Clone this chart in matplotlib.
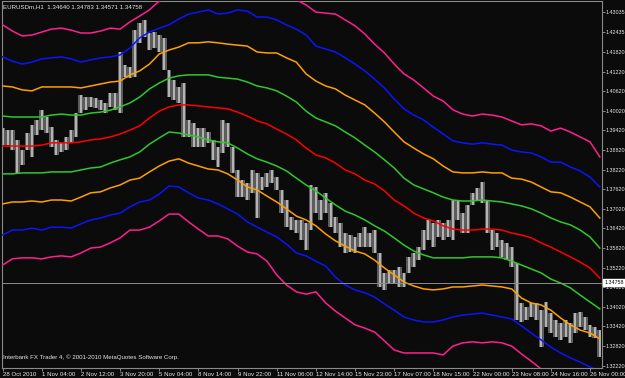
import numpy as np
import matplotlib
matplotlib.use('Agg')
import matplotlib.pyplot as plt
import matplotlib.transforms as mtransforms

# EURUSDm H1 bands, one reading every 8 bars (bar 0 = 28 Oct 2010)
env_up4 = [1.4265, 1.4246, 1.4231, 1.4234, 1.4243, 1.4252, 1.4255, 1.4249, 1.4240, 1.4240,
           1.4246, 1.4255, 1.4252, 1.4274, 1.4292, 1.4311, 1.4338, 1.4350, 1.4369, 1.4384,
           1.4390, 1.4396, 1.4384, 1.4387, 1.4396, 1.4393, 1.4375, 1.4375, 1.4369, 1.4353,
           1.4341, 1.4326, 1.4304, 1.4301, 1.4298, 1.4280, 1.4262, 1.4237, 1.4206, 1.4179,
           1.4145, 1.4115, 1.4096, 1.4072, 1.4047, 1.4032, 1.4005, 1.3992, 1.3986, 1.3992,
           1.3989, 1.3983, 1.3971, 1.3959, 1.3962, 1.3956, 1.3940, 1.3949, 1.3937, 1.3922,
           1.3907, 1.3861]
env_up3 = [1.4167, 1.4154, 1.4145, 1.4151, 1.4161, 1.4164, 1.4167, 1.4161, 1.4151, 1.4158,
           1.4164, 1.4167, 1.4173, 1.4194, 1.4225, 1.4243, 1.4255, 1.4265, 1.4283, 1.4298,
           1.4304, 1.4311, 1.4298, 1.4301, 1.4311, 1.4307, 1.4289, 1.4289, 1.4280, 1.4265,
           1.4252, 1.4234, 1.4200, 1.4191, 1.4182, 1.4164, 1.4145, 1.4124, 1.4099, 1.4072,
           1.4038, 1.4008, 1.3989, 1.3974, 1.3952, 1.3931, 1.3910, 1.3904, 1.3900, 1.3904,
           1.3900, 1.3897, 1.3882, 1.3876, 1.3873, 1.3861, 1.3845, 1.3845, 1.3830, 1.3818,
           1.3799, 1.3769]
env_up2 = [1.4078, 1.4075, 1.4066, 1.4063, 1.4075, 1.4075, 1.4075, 1.4075, 1.4072, 1.4078,
           1.4084, 1.4090, 1.4093, 1.4112, 1.4124, 1.4145, 1.4176, 1.4188, 1.4197, 1.4210,
           1.4210, 1.4213, 1.4210, 1.4206, 1.4203, 1.4200, 1.4182, 1.4179, 1.4179, 1.4164,
           1.4151, 1.4115, 1.4093, 1.4078, 1.4069, 1.4050, 1.4035, 1.4020, 1.3995, 1.3968,
           1.3937, 1.3907, 1.3888, 1.3870, 1.3855, 1.3833, 1.3815, 1.3812, 1.3812, 1.3815,
           1.3812, 1.3812, 1.3796, 1.3793, 1.3784, 1.3769, 1.3754, 1.3751, 1.3738, 1.3723,
           1.3708, 1.3674]
env_up1 = [1.3986, 1.3983, 1.3983, 1.3983, 1.3983, 1.3989, 1.3992, 1.3989, 1.3989, 1.3995,
           1.3998, 1.4004, 1.4014, 1.4026, 1.4044, 1.4069, 1.4087, 1.4102, 1.4109, 1.4112,
           1.4112, 1.4112, 1.4105, 1.4102, 1.4099, 1.4090, 1.4078, 1.4072, 1.4063, 1.4047,
           1.4029, 1.4001, 1.3980, 1.3968, 1.3956, 1.3937, 1.3919, 1.3897, 1.3876, 1.3852,
           1.3827, 1.3796, 1.3775, 1.3763, 1.3751, 1.3738, 1.3729, 1.3726, 1.3726, 1.3729,
           1.3726, 1.3723, 1.3717, 1.3711, 1.3702, 1.3689, 1.3674, 1.3662, 1.3653, 1.3637,
           1.3616, 1.3582]
ma_mid = [1.3894, 1.3894, 1.3894, 1.3894, 1.3897, 1.3904, 1.3904, 1.3904, 1.3907, 1.3913,
          1.3916, 1.3922, 1.3931, 1.3943, 1.3956, 1.3980, 1.4001, 1.4014, 1.4020, 1.4020,
          1.4017, 1.4014, 1.4011, 1.4008, 1.3998, 1.3986, 1.3971, 1.3962, 1.3946, 1.3931,
          1.3913, 1.3888, 1.3867, 1.3858, 1.3842, 1.3821, 1.3809, 1.3790, 1.3778, 1.3757,
          1.3729, 1.3711, 1.3689, 1.3674, 1.3665, 1.3650, 1.3640, 1.3637, 1.3637, 1.3640,
          1.3640, 1.3637, 1.3628, 1.3622, 1.3613, 1.3598, 1.3585, 1.3570, 1.3555, 1.3539,
          1.3521, 1.3490]
env_dn1 = [1.3809, 1.3809, 1.3812, 1.3812, 1.3812, 1.3815, 1.3815, 1.3815, 1.3821, 1.3827,
           1.3830, 1.3842, 1.3852, 1.3861, 1.3876, 1.3900, 1.3919, 1.3937, 1.3934, 1.3928,
           1.3922, 1.3913, 1.3907, 1.3904, 1.3888, 1.3870, 1.3855, 1.3845, 1.3833, 1.3818,
           1.3796, 1.3775, 1.3757, 1.3735, 1.3714, 1.3695, 1.3683, 1.3668, 1.3650, 1.3634,
           1.3613, 1.3591, 1.3573, 1.3561, 1.3552, 1.3552, 1.3552, 1.3552, 1.3555, 1.3555,
           1.3555, 1.3552, 1.3542, 1.3530, 1.3518, 1.3506, 1.3487, 1.3475, 1.3460, 1.3438,
           1.3417, 1.3396]
env_dn2 = [1.3717, 1.3723, 1.3723, 1.3726, 1.3723, 1.3729, 1.3729, 1.3726, 1.3738, 1.3751,
           1.3754, 1.3766, 1.3775, 1.3790, 1.3796, 1.3815, 1.3833, 1.3848, 1.3855, 1.3842,
           1.3833, 1.3824, 1.3821, 1.3809, 1.3790, 1.3769, 1.3760, 1.3741, 1.3723, 1.3702,
           1.3680, 1.3668, 1.3650, 1.3625, 1.3604, 1.3588, 1.3573, 1.3564, 1.3545, 1.3521,
           1.3500, 1.3478, 1.3466, 1.3457, 1.3454, 1.3457, 1.3463, 1.3463, 1.3466, 1.3469,
           1.3466, 1.3463, 1.3457, 1.3429, 1.3414, 1.3408, 1.3392, 1.3368, 1.3347, 1.3331,
           1.3322, 1.3304]
env_dn3 = [1.3622, 1.3637, 1.3637, 1.3643, 1.3637, 1.3646, 1.3646, 1.3643, 1.3656, 1.3668,
           1.3674, 1.3683, 1.3689, 1.3708, 1.3723, 1.3729, 1.3747, 1.3772, 1.3769, 1.3751,
           1.3735, 1.3729, 1.3717, 1.3702, 1.3686, 1.3662, 1.3646, 1.3631, 1.3616, 1.3594,
           1.3567, 1.3558, 1.3542, 1.3527, 1.3493, 1.3469, 1.3454, 1.3445, 1.3432, 1.3411,
           1.3392, 1.3371, 1.3362, 1.3356, 1.3356, 1.3362, 1.3371, 1.3377, 1.3380, 1.3383,
           1.3377, 1.3371, 1.3365, 1.3344, 1.3322, 1.3301, 1.3279, 1.3261, 1.3246, 1.3233,
           1.3218, 1.3206]
env_dn4 = [1.3530, 1.3549, 1.3552, 1.3552, 1.3549, 1.3555, 1.3558, 1.3555, 1.3567, 1.3582,
           1.3585, 1.3598, 1.3613, 1.3637, 1.3637, 1.3646, 1.3665, 1.3686, 1.3686, 1.3662,
           1.3640, 1.3619, 1.3619, 1.3610, 1.3588, 1.3570, 1.3564, 1.3542, 1.3500, 1.3469,
           1.3448, 1.3441, 1.3448, 1.3414, 1.3389, 1.3368, 1.3347, 1.3337, 1.3325, 1.3298,
           1.3270, 1.3261, 1.3261, 1.3261, 1.3261, 1.3255, 1.3282, 1.3292, 1.3295, 1.3292,
           1.3295, 1.3292, 1.3282, 1.3258, 1.3236, 1.3212, 1.3197, 1.3178, 1.3163, 1.3151,
           1.3135, 1.3126]

# price high / low, one reading every 4 bars
bar_high = [1.3949, 1.3943, 1.3943, 1.3913, 1.3882, 1.3934, 1.3959, 1.3974, 1.4004, 1.3983,
            1.3952, 1.3913, 1.3904, 1.3922, 1.3943, 1.3995, 1.4050, 1.4044, 1.4044, 1.4041,
            1.4035, 1.4026, 1.4057, 1.4057, 1.4182, 1.4142, 1.4136, 1.4249, 1.4271, 1.4280,
            1.4240, 1.4243, 1.4234, 1.4225, 1.4127, 1.4096, 1.4075, 1.4087, 1.3974, 1.3965,
            1.3949, 1.3949, 1.3937, 1.3913, 1.3891, 1.3974, 1.3965, 1.3891, 1.3821, 1.3790,
            1.3781, 1.3821, 1.3812, 1.3799, 1.3812, 1.3821, 1.3799, 1.3760, 1.3729, 1.3677,
            1.3668, 1.3668, 1.3659, 1.3775, 1.3769, 1.3729, 1.3751, 1.3720, 1.3677, 1.3659,
            1.3628, 1.3622, 1.3616, 1.3628, 1.3646, 1.3628, 1.3637, 1.3567, 1.3506, 1.3515,
            1.3515, 1.3524, 1.3506, 1.3555, 1.3567, 1.3585, 1.3637, 1.3668, 1.3659, 1.3668,
            1.3659, 1.3668, 1.3729, 1.3729, 1.3689, 1.3714, 1.3751, 1.3766, 1.3784, 1.3729,
            1.3637, 1.3628, 1.3607, 1.3598, 1.3585, 1.3536, 1.3414, 1.3402, 1.3414, 1.3414,
            1.3392, 1.3417, 1.3383, 1.3362, 1.3353, 1.3362, 1.3353, 1.3383, 1.3386, 1.3371,
            1.3347, 1.3340, 1.3331]
bar_low = [1.3897, 1.3897, 1.3882, 1.3812, 1.3836, 1.3882, 1.3861, 1.3928, 1.3943, 1.3934,
           1.3891, 1.3867, 1.3876, 1.3882, 1.3904, 1.3922, 1.3995, 1.4004, 1.4014, 1.4011,
           1.4004, 1.3995, 1.4014, 1.4004, 1.3995, 1.4105, 1.4102, 1.4105, 1.4210, 1.4228,
           1.4188, 1.4194, 1.4182, 1.4127, 1.4044, 1.4035, 1.4026, 1.3922, 1.3922, 1.3891,
           1.3891, 1.3891, 1.3904, 1.3852, 1.3830, 1.3873, 1.3891, 1.3812, 1.3738, 1.3738,
           1.3729, 1.3751, 1.3674, 1.3760, 1.3769, 1.3781, 1.3760, 1.3689, 1.3646, 1.3637,
           1.3628, 1.3607, 1.3576, 1.3637, 1.3689, 1.3668, 1.3689, 1.3646, 1.3628, 1.3585,
           1.3567, 1.3570, 1.3567, 1.3585, 1.3585, 1.3585, 1.3567, 1.3463, 1.3454, 1.3475,
           1.3475, 1.3463, 1.3463, 1.3506, 1.3524, 1.3545, 1.3576, 1.3607, 1.3585, 1.3616,
           1.3607, 1.3616, 1.3607, 1.3668, 1.3628, 1.3628, 1.3714, 1.3729, 1.3720, 1.3628,
           1.3576, 1.3585, 1.3555, 1.3545, 1.3524, 1.3362, 1.3356, 1.3362, 1.3371, 1.3362,
           1.3279, 1.3340, 1.3322, 1.3310, 1.3301, 1.3310, 1.3292, 1.3322, 1.3340, 1.3331,
           1.3310, 1.3307, 1.3249]

time_labels = ['28 Oct 2010', '1 Nov 04:00', '2 Nov 12:00', '3 Nov 20:00', '5 Nov 04:00',
               '8 Nov 14:00', '9 Nov 22:00', '11 Nov 06:00', '12 Nov 14:00', '15 Nov 23:00',
               '17 Nov 07:00', '18 Nov 15:00', '22 Nov 00:00', '23 Nov 08:00', '24 Nov 16:00',
               '26 Nov 00:00']
price_labels = [1.43035, 1.42435, 1.41820, 1.41220, 1.40620, 1.40020, 1.39420, 1.38820,
                1.38220, 1.37620, 1.37020, 1.36420, 1.35820, 1.35220, 1.34620, 1.34020,
                1.33420, 1.32820, 1.32220]
last_price = 1.34758
header = 'EURUSDm,H1  1.34640 1.34783 1.34571 1.34758'
copyright_text = 'Interbank FX Trader 4, \u00a9 2001-2010 MetaQuotes Software Corp.'

bg = '#0b0b0b'
fg = '#e6e6e6'
grid_col = '#8a8a8a'

plt.rcParams['font.family'] = ['Liberation Sans', 'DejaVu Sans']
fs = 4.4
fs_y = 3.9

fig = plt.figure(figsize=(6.25, 3.78), dpi=100, facecolor=bg)
ax = fig.add_axes([2 / 625, 10.5 / 378, 600 / 625, 366.5 / 378], facecolor=bg)

line_x = np.arange(len(ma_mid)) * 8
bar_x = np.arange(len(bar_high)) * 4

# bar chart: dim body of the range plus lighter strokes
ax.fill_between(bar_x, bar_low, bar_high, step='mid', color='#5c5c5c', linewidth=0, zorder=1)
ax.vlines(bar_x, bar_low, bar_high, color='#bdbdbd', linewidth=1.3, zorder=2)

bands = [
    (env_up4, '#ff1f8f'), (env_up3, '#0a14ff'), (env_up2, '#ffa000'), (env_up1, '#2ec82e'),
    (ma_mid, '#ff0000'),
    (env_dn1, '#2ec82e'), (env_dn2, '#ffa000'), (env_dn3, '#0a14ff'), (env_dn4, '#ff1f8f'),
]
for vals, col in bands:
    ax.plot(line_x, vals, color=col, linewidth=1.1, zorder=3)

ax.axhline(last_price, color='#8c8c8c', linewidth=0.7, zorder=4)

ax.set_xlim(-0.5, 489.8)
ax.set_ylim(1.32165, 1.43380)

for sp in ax.spines.values():
    sp.set_color(grid_col)
    sp.set_linewidth(0.8)

ax.set_xticks(np.arange(len(time_labels)) * 32)
ax.set_xticklabels(time_labels)
for lbl in ax.get_xticklabels():
    lbl.set_horizontalalignment('left')
ax.yaxis.tick_right()
ax.set_yticks(price_labels)
ax.set_yticklabels([f'{v:.5f}' for v in price_labels])
ax.tick_params(axis='both', colors=grid_col, labelcolor=fg, length=2.5, width=0.7)
ax.tick_params(axis='x', labelsize=fs, pad=0.8)
ax.tick_params(axis='y', labelsize=fs_y, pad=0.6, length=2)

trans = mtransforms.blended_transform_factory(ax.transAxes, ax.transData)
ax.text(1.004, last_price, f'{last_price:.5f}', transform=trans, fontsize=fs_y,
        color='black', va='center', ha='left', zorder=6, clip_on=False,
        bbox=dict(boxstyle='square,pad=0.2', facecolor='white', edgecolor='white'))

fig.text(3 / 625, 1 - 7 / 378, header, color=fg, fontsize=fs, va='center', ha='left')
fig.text(3 / 625, 1 - 357 / 378, copyright_text, color=fg, fontsize=fs, va='center', ha='left')

fig.savefig('out.png', dpi=100, facecolor=bg)
